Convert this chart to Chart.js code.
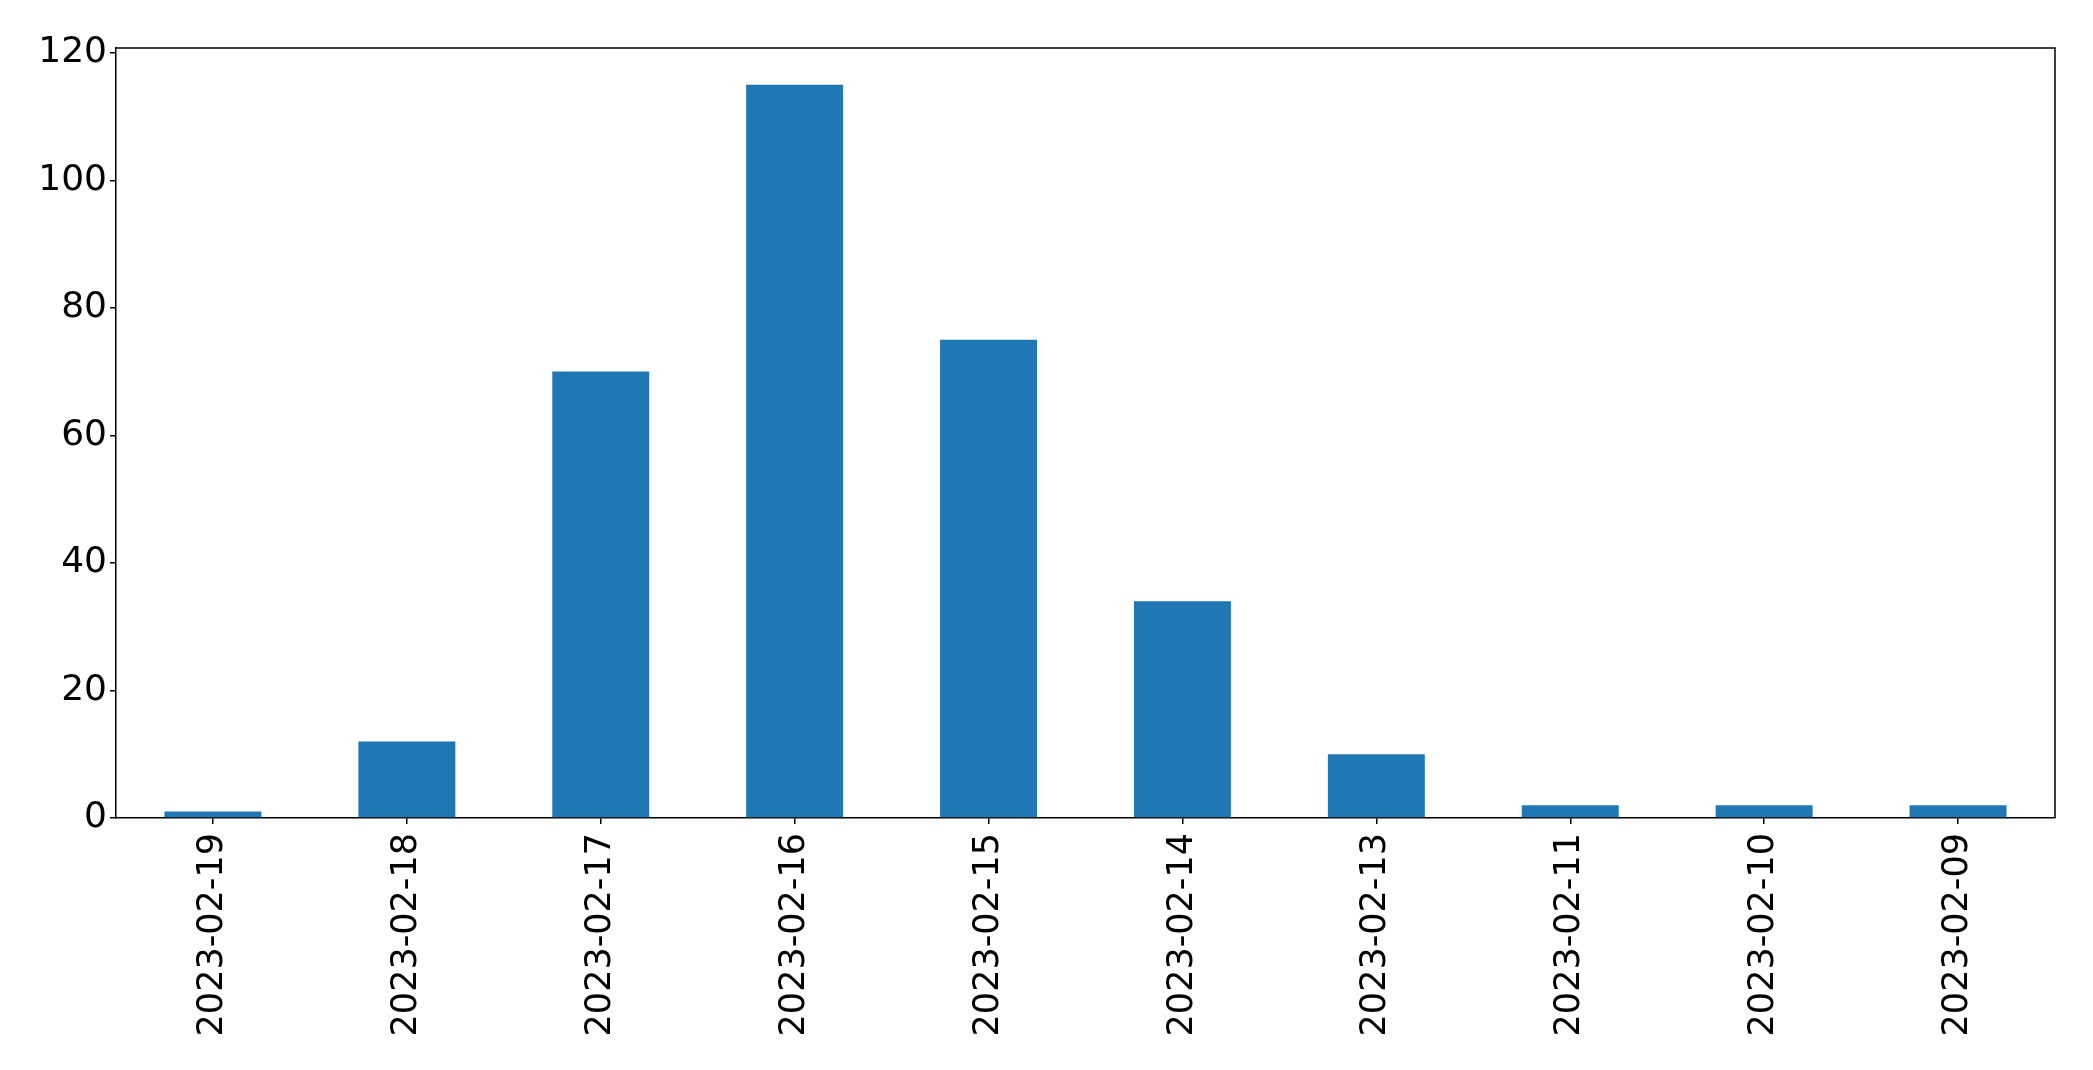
<!DOCTYPE html>
<html>
<head>
<meta charset="utf-8">
<script src="https://cdn.jsdelivr.net/npm/chart.js@4"></script>
<style>
  html, body { margin: 0; padding: 0; background: #fff; }
  #wrap { width: 2093px; height: 1070px; }
</style>
</head>
<body>
<div id="wrap"><canvas id="chart" width="2093" height="1070"></canvas></div>
<script>
const dates = ["2023-02-19", "2023-02-18", "2023-02-17", "2023-02-16", "2023-02-15",
               "2023-02-14", "2023-02-13", "2023-02-11", "2023-02-10", "2023-02-09"];
const counts = [1, 12, 70, 115, 75, 34, 10, 2, 2, 2];
const yTicks = [0, 20, 40, 60, 80, 100, 120];

// top and right spines, matplotlib style
const frame = {
  id: "frame",
  afterDraw(chart) {
    const { ctx, chartArea: a } = chart;
    ctx.save();
    ctx.strokeStyle = "#000";
    ctx.lineWidth = 1.5;
    ctx.beginPath();
    ctx.moveTo(a.left, a.top);
    ctx.lineTo(a.right, a.top);
    ctx.lineTo(a.right, a.bottom);
    ctx.stroke();
    ctx.restore();
  }
};

new Chart(document.getElementById("chart"), {
  type: "bar",
  data: {
    labels: dates,
    datasets: [{
      data: counts,
      backgroundColor: "#1f77b4",
      barPercentage: 0.5,
      categoryPercentage: 1.0
    }]
  },
  options: {
    responsive: false,
    animation: false,
    layout: { padding: { left: 0, top: 48, right: 38, bottom: 0 } },
    plugins: { legend: { display: false }, tooltip: { enabled: false } },
    scales: {
      x: {
        grid: { offset: false, drawOnChartArea: false, drawTicks: true, tickLength: 6, color: "#000", lineWidth: 1.5 },
        border: { display: true, color: "#000", width: 1.5 },
        ticks: { font: { family: "DejaVu Sans", size: 35 }, color: "#000", minRotation: 90, maxRotation: 90, autoSkip: false, padding: 9 },
        afterFit(s) { s.height = 252; }
      },
      y: {
        min: 0,
        max: 120.75,
        afterBuildTicks(s) { s.ticks = yTicks.map(v => ({ value: v })); },
        grid: { drawOnChartArea: false, drawTicks: true, tickLength: 6, color: "#000", lineWidth: 1.5 },
        border: { display: true, color: "#000", width: 1.5 },
        ticks: { font: { family: "DejaVu Sans", size: 36 }, color: "#000", padding: 3 },
        afterFit(s) { s.width = 116; }
      }
    }
  },
  plugins: [frame]
});
</script>
</body>
</html>
